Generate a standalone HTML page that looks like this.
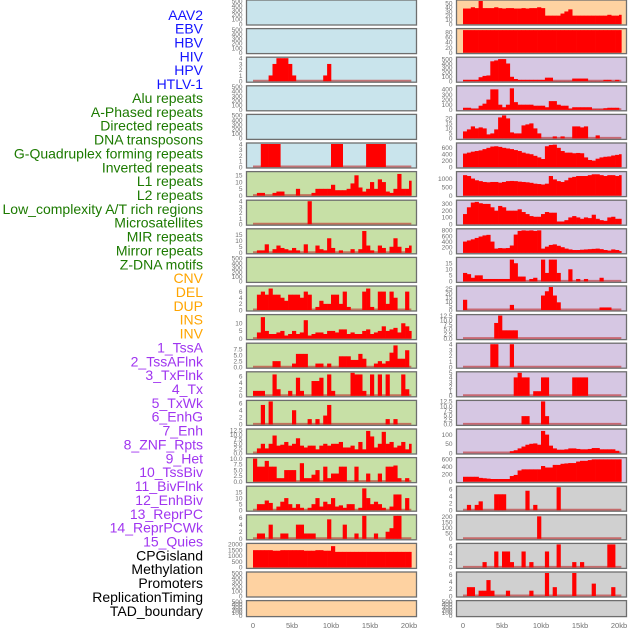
<!DOCTYPE html>
<html><head><meta charset="utf-8">
<style>
html,body{margin:0;padding:0;background:#fff;}
#wrap{position:relative;width:630px;height:630px;overflow:hidden;}
svg{position:absolute;left:0;top:0;}
</style></head>
<body>
<div id="wrap">
<svg id="chart" width="630" height="630"></svg>
</div>
<script>
// ---------- labels ----------
const labelNames = ["AAV2","EBV","HBV","HIV","HPV","HTLV-1","Alu repeats","A-Phased repeats","Directed repeats","DNA transposons","G-Quadruplex forming repeats","Inverted repeats","L1 repeats","L2 repeats","Low_complexity A/T rich regions","Microsatellites","MIR repeats","Mirror repeats","Z-DNA motifs","CNV","DEL","DUP","INS","INV","1_TssA","2_TssAFlnk","3_TxFlnk","4_Tx","5_TxWk","6_EnhG","7_Enh","8_ZNF_Rpts","9_Het","10_TssBiv","11_BivFlnk","12_EnhBiv","13_ReprPC","14_ReprPCWk","15_Quies","CPGisland","Methylation","Promoters","ReplicationTiming","TAD_boundary"];
const labelGroupCounts = [6,13,5,15,5];
const labelGroupColors = ["#1414ff","#1c7a00","#ffa500","#a035f0","#000000"];

// ---------- axis ----------
const xTickValues = [0,5,10,15,20];
const xTickLabels = ["0","5kb","10kb","15kb","20kb"];
const dataEndKb = 20.3;
const binKb = 0.5;

// ---------- left column series (41 bins of 0.5kb) ----------
const Z = [];
const L2 = [0,0,0,0,1,3,4,4,4,3, 1,0,0,0,0,0,0,0,1,3, 0,0,0,0,0,0,0,0,0,0, 0,0,0,0,0,0,0,0,0,0, 0];
const L5 = [0,0,4,4,4,4,4,0,0,0, 0,0,0,0,0,0,0,0,0,0, 4,4,4,0,0,0,0,0,0,4, 4,4,4,4,0,0,0,0,0,0, 0];
const L6 = [0,2,2,0,0,2,3,3,0,0, 0,5,0,0,0,2,5,5,5,5, 8,4,4,4,5,9,15,6,3,5, 10,5,12,10,3,2,5,16,5,5, 11];
const L7 = [0,0,0,0,0,0,0,0,0,0, 0,0,0,0,4,0,0,0,0,0, 0,0,0,0,0,0,0,0,0,0, 0,0,0,0,0,0,0,0,0,0, 0];
const L8 = [0,2,2,7,0,3,6,4,3,2, 4,2,0,7,0,0,6,3,2,12, 4,0,2,0,0,3,0,3,18,6, 2,0,6,4,0,5,12,5,0,4, 6];
const L10 = [0,5,6,5,7,5,5,4,3,5, 5,5,4,6,5,0,1,3,2,2, 5,5,2,6,1,0,0,0,6,7, 1,0,6,6,2,6,4,0,0,6, 0];
const L11 = [0,4,14,5,3,3,4,5,2,3, 5,3,4,12,2,3,4,4,3,5, 5,4,6,6,3,4,3,3,5,6, 3,4,5,8,5,6,7,4,10,8, 5];
const L12 = [0,0,0,0,0,2.5,2.5,0,0,0, 1.5,5.5,5.5,5.5,0,0,1.5,1.5,0,1.5, 0,0,4.5,4.5,4.5,3,3,5.5,3.5,0, 0,1.5,2.5,1.5,2.5,6,9,3.5,3.5,7, 0];
const L13 = [1.5,1.5,1.5,0,0,6.5,2,0,0,1.5, 0,5.5,1.5,0,0,4.5,4.5,5.5,0,6.5, 1.5,0,0,0,0,7,6.5,6.5,1.5,0, 6.5,0,6.5,0,6.5,0,0,0,6.5,2, 0];
const L14 = [0,0,5.5,0,6.5,0,0,0,0,0, 4,0,0,0,1.5,0,1.5,0,2.5,5.5, 0,0,0,0,0,0,0,0,0,0, 0,0,0,0,1.5,0,1.5,0,0,0, 0];
const L15 = [0,2.5,5,2.5,5,9.5,4,4.5,6,4, 5,8,4,3,4,4,2,4,5,4, 5,5,6,3,3,4,2,6,2,12, 9,3,5,11.5,5,6,3,4,6,2, 5];
const L16 = [10,6.5,6.5,9,6.5,6.5,1.5,1.5,5,5, 5,0,8,1.5,1.5,3,5,0,6.5,1.5, 3.5,3.5,6.5,6.5,0,0,6.5,0,0,3.5, 0,0,3.5,0,6.5,6.5,7,1.5,0,1.5, 0];
const L17 = [0,5,5,8,6,0,3,7,10,5, 2,5,2,0,2,5,10,3,7,5, 10,3,4,2,5,5,0,2,18,10, 5,7,5,2,0,3,13,13,0,10, 0];
const L18 = [0,1.5,1.5,0,4,0,0,1.5,1.5,0, 0,4,4,1.5,1.5,1.5,0,0,0,5.5, 0,0,0,4,0,0,1.5,0,6.5,0, 0,1.5,0,0,2,3,6.5,6.5,0,0, 0];
const L19 = [1500,1500,1500,1500,1500,1450,1450,1500,1500,1500, 1500,1500,1500,1450,1450,1450,1500,1500,1450,1450, 1850,1350,1350,1350,1350,1350,1350,1350,1350,1350, 1350,1350,1350,1350,1350,1350,1350,1350,1350,1350, 1350];

// ---------- right column series ----------
const R0 = [37,37,40,38,55,38,38,38,40,38, 37,38,38,37,37,38,37,38,38,40, 38,20,20,20,20,25,30,35,20,20, 20,20,20,20,20,20,20,22,20,20, 22];
const R1 = [88,88,88,88,88,88,88,88,88,88, 88,88,88,88,88,88,88,88,88,88, 88,88,88,88,88,88,88,88,88,88, 88,88,88,88,88,88,88,88,88,88, 88];
const R2 = [30,30,30,30,90,120,130,450,470,500, 500,400,100,50,30,30,30,30,30,30, 30,80,80,5,5,5,5,5,60,60, 60,60,5,5,5,5,30,30,5,30, 0];
const R3 = [40,40,20,20,80,120,200,400,400,100, 50,100,420,150,100,100,100,100,80,80, 80,50,170,170,100,80,80,20,50,50, 50,50,50,10,10,10,30,40,40,40, 0];
const R4 = [7,9,12,10,11,10,4,5,9,21, 23,20,6,5,5,13,14,15,10,5, 0,0,0,2,0,2,0,0,12,12, 11,12,0,0,3,0,0,0,0,0, 0];
const R5 = [420,450,480,500,520,560,600,640,650,630, 600,580,560,530,500,450,420,400,350,300, 250,650,690,700,600,500,450,450,430,440, 430,300,220,200,260,300,320,330,360,380, 400];
const R6 = [1200,1150,1000,900,850,800,780,800,800,760, 800,850,860,850,820,800,780,750,700,680, 650,700,1150,950,850,800,900,1050,1100,1150, 1150,1150,1200,1250,1250,1200,1150,1200,1200,1150, 1200];
const R7 = [150,250,320,330,310,300,300,250,200,270, 250,200,200,200,220,180,150,120,110,110, 150,180,170,170,40,40,60,100,120,100, 80,100,90,140,80,60,50,100,110,80, 80];
const R8 = [400,440,480,530,580,620,640,400,150,170, 160,170,260,650,780,800,790,800,780,800, 150,220,280,300,250,200,150,120,100,100, 110,120,130,140,150,130,100,80,120,100, 60];
const R9 = [7,6,3,5,5,2,2,2,2,2, 2,2,18,15,4,4,0,2,3,0, 18,7,18,18,7,0,0,10,0,2, 0,2,0,0,0,3,0,0,0,0, 0];
const R10 = [12,0,0,0,0,0,0,0,0,0, 0,0,6,0,0,0,0,0,0,0, 17,22,27,17,9,0,0,0,0,0, 0,0,0,0,0,3,3,3,0,0, 0];
const R11 = [0,0,0,0,0,0,0,0,8.5,12.5, 4.5,4.5,4.5,4.5,0,0,0,0,0,0, 0,0,0,0,0,0,0,0,0,0, 0,0,0,0,0,0,0,0,0,0, 0];
const R12 = [0,0,0,0,0,0,0,4,4,0, 0,0,4,0,0,0,0,0,0,0, 0,0,0,0,0,0,0,0,0,0, 0,0,0,0,0,0,0,0,0,0, 0];
const R13 = [0,0,0,0,0,0,0,0,0,0, 0,0,0,4,5,4,4,0,1,1, 4,4,0,0,0,0,0,0,4,4, 4,4,0,0,0,0,0,0,0,0, 0];
const R14 = [0,0,0,0,0,0,0,0,0,0, 0,0,0,0,0,4.5,4.5,0,0,0, 12.5,4.5,0,0,0,0,0,0,0,0, 0,0,0,0,0,0,0,0,0,0, 0];
const R15 = [0,0,0,0,0,0,0,0,0,0, 0,0,10,15,25,35,45,50,52,45, 120,100,40,25,18,18,20,25,25,22, 20,20,22,27,27,20,20,20,20,12, 0];
const R16 = [130,130,130,130,100,90,80,70,70,70, 70,70,150,180,300,330,330,330,330,330, 420,380,380,450,450,480,490,500,500,540, 560,560,580,600,600,600,600,600,600,600, 600];
const R17 = [0,1.5,0,1.5,2.5,0,0,0,4.5,4.5, 4.5,0,0,0,0,0,5.5,0,1.5,0, 0,0,0,0,6.5,0,0,0,0,0, 0,0,0,0,0,0,0,0,0,0, 0];
const R18 = [0,0,0,0,0,0,0,0,0,0, 0,0,0,0,0,0,0,0,0,205, 0,0,0,0,0,0,0,0,0,0, 0,0,0,0,0,0,0,0,0,0, 0];
const R19 = [0,0,0,0,0,1.5,0,0,4.5,0, 4.5,4.5,1.5,0,0,4.5,0,1.5,0,0, 0,4.5,0,0,6.5,0,0,0,1.5,0, 1.5,0,0,0,0,0,0,6.5,6.5,0, 0];
const R20 = [0,2.5,2.5,0,1.5,1.5,4.5,1.5,0,0, 0,1.5,0,0,0,0,0,1.5,0,0, 0,6.5,0,2.5,0,0,0,0,6.5,0, 0,0,0,3.5,0,0,0,0,2.5,0, 0];

const leftSeries  = [Z,Z,L2,Z,Z,L5,L6,L7,L8,Z,L10,L11,L12,L13,L14,L15,L16,L17,L18,L19,Z,Z];
const rightSeries = [R0,R1,R2,R3,R4,R5,R6,R7,R8,R9,R10,R11,R12,R13,R14,R15,R16,R17,R18,R19,R20,Z];

const leftYMax  = [500,500,4,500,500,4,17,4,19,500,7.5,15,9.5,7,6.5,12.5,10,19,6.5,2000,500,500];
const rightYMax = [55,90,520,450,23,720,1350,340,820,19,27,12.5,4,5,12.5,125,620,6.5,210,6.5,6.5,500];

const T500=[0,100,200,300,400,500];
const leftTicks = [T500,T500,[0,1,2,3,4],T500,T500,[0,1,2,3,4],[0,5,10,15],[0,1,2,3,4],[0,5,10,15],T500,[0,2,4,6],[0,5,10],[0,2.5,5,7.5],[0,2,4,6],[0,2,4,6],[0,2.5,5,7.5,10,12.5],[0,2.5,5,7.5,10],[0,5,10,15],[0,2,4,6],[0,500,1000,1500,2000],T500,T500];
const rightTicks = [[0,10,20,30,40,50],[0,20,40,60,80],T500,[0,100,200,300,400],[0,5,10,15,20],[0,200,400,600],[0,500,1000],[0,100,200,300],[0,200,400,600,800],[0,5,10,15],[0,5,10,15,20,25],[0,2.5,5,7.5,10,12.5],[0,1,2,3,4],[0,1,2,3,4,5],[0,2.5,5,7.5,10,12.5],[0,50,100],[0,200,400,600],[0,2,4,6],[0,50,100,150,200],[0,2,4,6],[0,2,4,6],T500];

const leftBg  = ["blue","blue","blue","blue","blue","blue","green","green","green","green","green","green","green","green","green","green","green","green","green","orange","orange","orange"];
const rightBg = ["orange","orange","purple","purple","purple","purple","purple","purple","purple","purple","purple","purple","purple","purple","purple","purple","purple","gray","gray","gray","gray","gray"];

// ---------- rendering ----------
const NS="http://www.w3.org/2000/svg";
const svg=document.getElementById('chart');
const bgColors={blue:"#c9e4ec",green:"#c7e0a6",orange:"#fed2a1",purple:"#d6c7e3",gray:"#d0d0d0"};
const cols=[{x0:246.5,x1:416.5,kb0:253,kbScale:7.8,series:leftSeries,ymax:leftYMax,ticks:leftTicks,bg:leftBg,side:'left'},
            {x0:456.5,x1:626.5,kb0:463,kbScale:7.8,series:rightSeries,ymax:rightYMax,ticks:rightTicks,bg:rightBg,side:'right'}];
function mk(tag,attrs){const e=document.createElementNS(NS,tag);for(const k in attrs)e.setAttribute(k,attrs[k]);return e;}
function panelTop(i){return i*28.6;}
function panelH(i){return i===21?16:25;}
function fmt(v,ticks){return ticks.some(t=>t%1!==0)?v.toFixed(1):String(v);}

cols.forEach(col=>{
  const xs=kb=>col.kb0+kb*col.kbScale;
  for(let i=0;i<22;i++){
    const top=panelTop(i),h=panelH(i),bot=top+h;
    const g=mk('g',{});
    
    
    svg.appendChild(g);
    const bg=mk('rect',{x:col.x0,y:top,width:col.x1-col.x0,height:h,fill:bgColors[col.bg[i]]});
    
    
    g.appendChild(bg);
    const ymax=col.ymax[i];
    const ys=v=>bot-1-(v/ymax)*(h-2);
    const data=col.series[i];
    if(data.length){
      const base=mk('line',{x1:xs(0),x2:xs(dataEndKb),y1:bot-1.5,y2:bot-1.5,stroke:"rgba(190,40,40,0.6)","stroke-width":2});
      
      
      g.appendChild(base);
      data.forEach((v,k)=>{
        if(!v)return;
        const a=k*binKb, b=Math.min(dataEndKb,(k+1)*binKb);
        const r=mk('rect',{x:xs(a),y:ys(v),width:xs(b)-xs(a)+0.3,height:ys(0)-ys(v),fill:"#ff0000"});
        
        
        g.appendChild(r);
      });
    }
    const border=mk('rect',{x:col.x0,y:top,width:col.x1-col.x0,height:h,fill:"none",stroke:"#6e6e6e","stroke-width":1.3});
    
    
    g.appendChild(border);
    col.ticks[i].forEach(t=>{
      const tx=mk('text',{x:col.x0-4,y:ys(t)+2.3,"text-anchor":"end","font-size":"6.5","font-family":"Liberation Sans, sans-serif",fill:"#707070"});
      tx.textContent=fmt(t,col.ticks[i]);
      
      
      g.appendChild(tx);
    });
  }
  xTickValues.forEach((v,j)=>{
    const tx=mk('text',{x:xs(v),y:628,"text-anchor":"middle","font-size":"7.5","font-family":"Liberation Sans, sans-serif",fill:"#707070"});
    tx.textContent=xTickLabels[j];
    
    
    svg.appendChild(tx);
  });
});

// feature labels
let idx=0;
labelGroupCounts.forEach((n,gi)=>{
  for(let j=0;j<n;j++){
    const y=15+idx*13.86+4.8;
    const tx=mk('text',{x:203,y:y,"text-anchor":"end","font-size":"14","font-family":"Liberation Sans, sans-serif",fill:labelGroupColors[gi]});
    tx.textContent=labelNames[idx];
    
    
    svg.appendChild(tx);
    idx++;
  }
});
</script>
</body></html>
